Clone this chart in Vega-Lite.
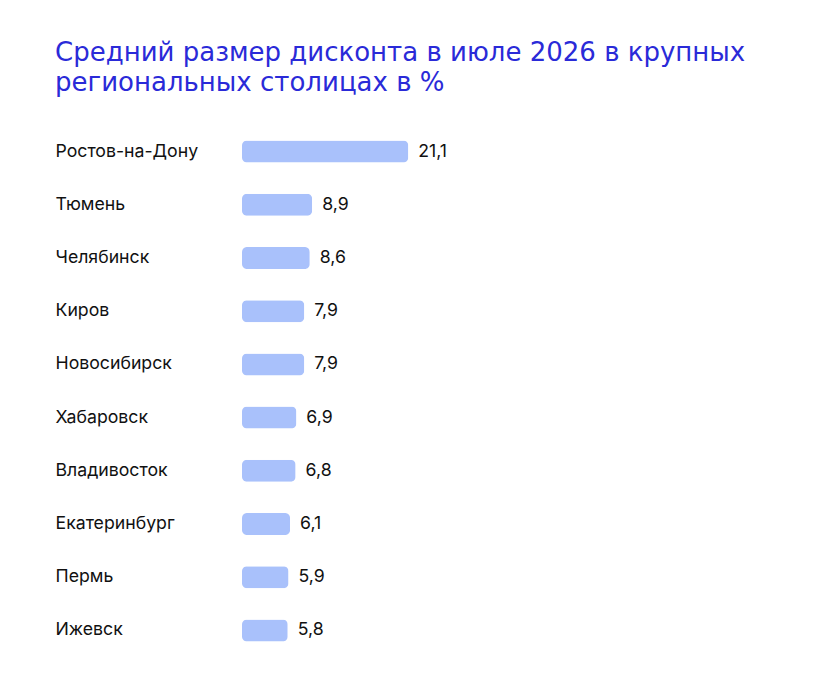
{
  "$schema": "https://vega.github.io/schema/vega-lite/v6.json",
  "width": 197,
  "height": 532,
  "autosize": "none",
  "padding": {"left": 242, "top": 125, "right": 378, "bottom": 37},
  "background": "white",
  "config": {
    "view": {"stroke": null},
    "locale": {"number": {"decimal": ",", "thousands": " ", "grouping": [3], "currency": ["", ""]}}
  },
  "title": {
    "text": ["Средний размер дисконта в июле 2026 в крупных", "региональных столицах в %"],
    "anchor": "start",
    "frame": "group",
    "dx": -187,
    "offset": 3,
    "font": "DejaVu Sans",
    "fontSize": 26,
    "fontWeight": "normal",
    "color": "#2a2ad8",
    "lineHeight": 30,
    "baseline": "bottom"
  },
  "data": {
    "values": [
      {"city": "Ростов-на-Дону", "value": 21.1},
      {"city": "Тюмень", "value": 8.9},
      {"city": "Челябинск", "value": 8.6},
      {"city": "Киров", "value": 7.9},
      {"city": "Новосибирск", "value": 7.9},
      {"city": "Хабаровск", "value": 6.9},
      {"city": "Владивосток", "value": 6.8},
      {"city": "Екатеринбург", "value": 6.1},
      {"city": "Пермь", "value": 5.9},
      {"city": "Ижевск", "value": 5.8}
    ]
  },
  "encoding": {
    "y": {
      "field": "city",
      "type": "nominal",
      "sort": null,
      "scale": {"paddingInner": 0.586, "paddingOuter": 0.293},
      "axis": {
        "title": null,
        "domain": false,
        "ticks": false,
        "labelAlign": "left",
        "labelPadding": 187,
        "labelFont": "Inter",
        "labelFontSize": 17.7,
        "labelColor": "#111111",
        "labelLimit": 200
      }
    },
    "x": {
      "field": "value",
      "type": "quantitative",
      "scale": {"domain": [0, 25], "nice": false},
      "axis": null
    }
  },
  "layer": [
    {
      "mark": {"type": "bar", "color": "#a9c1fb", "cornerRadius": 5}
    },
    {
      "mark": {"type": "text", "align": "left", "dx": 10, "font": "Inter", "fontSize": 17.7, "color": "#111111"},
      "encoding": {
        "text": {"field": "value", "type": "quantitative", "format": ".1f"}
      }
    }
  ]
}
